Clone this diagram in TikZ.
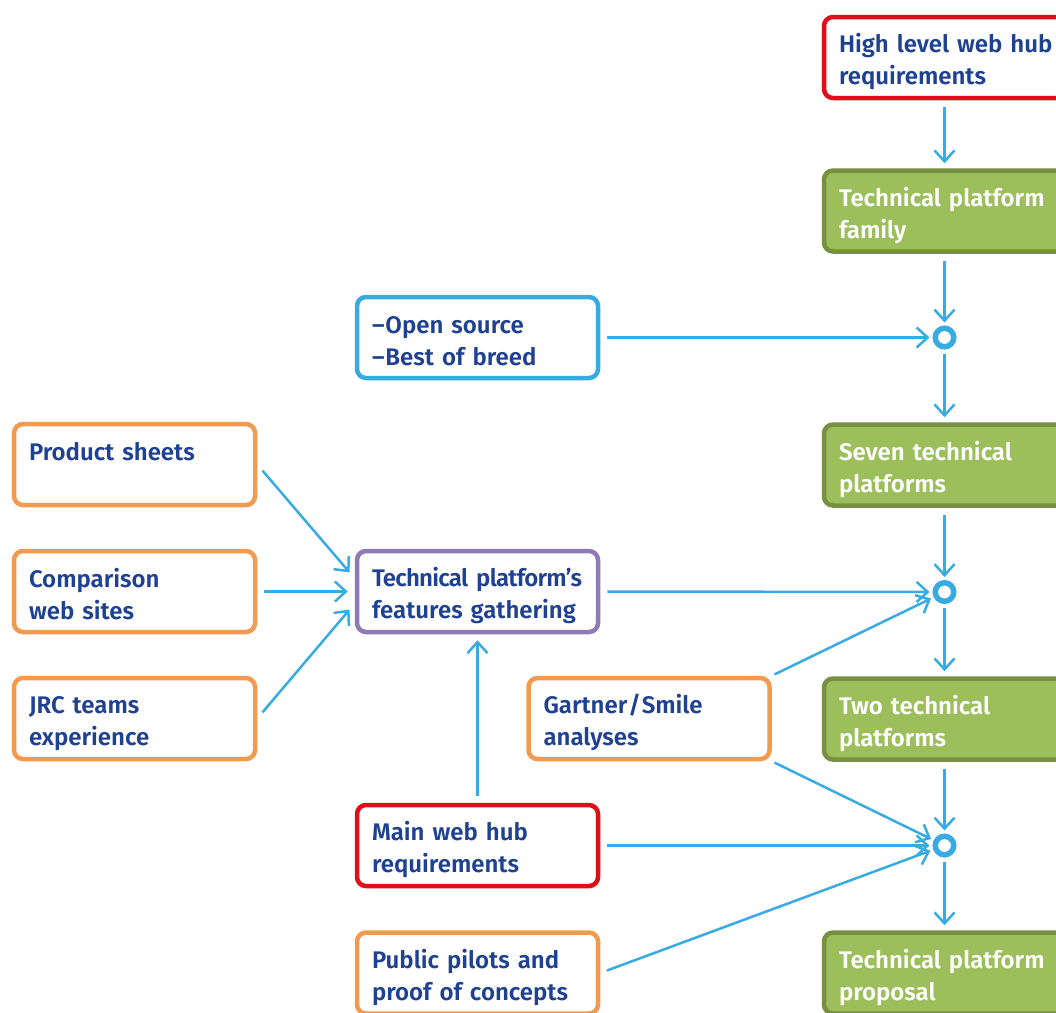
\documentclass[tikz,border=0pt]{standalone}
\usepackage{fontspec}
\setmainfont{Fira Sans}[UprightFont={* SemiBold}]
\usetikzlibrary{arrows.meta,calc}
\definecolor{linkblue}{HTML}{38ABE3}
\definecolor{txtblue}{HTML}{1F4192}
\definecolor{boxred}{HTML}{E10E19}
\definecolor{boxorange}{HTML}{F29A50}
\definecolor{boxpurple}{HTML}{8E7BB6}
\definecolor{greenfill}{HTML}{9CBF5B}
\definecolor{greenline}{HTML}{768F40}
\newcommand\myTop{\rule{0pt}{28pt}}
\newcommand\myBot{\rule[-5pt]{0pt}{5pt}}
\begin{document}
\begin{tikzpicture}[x=1pt,y=-1pt,
  box/.style={rectangle, rounded corners=9pt, line width=4.5pt,
    minimum width=241pt, minimum height=81pt, inner xsep=15pt, inner ysep=0pt,
    text width=211pt, align=left, font=\fontsize{24}{32}\selectfont,
    text=txtblue, fill=white},
  redbox/.style={box, draw=boxred},
  orangebox/.style={box, draw=boxorange},
  bluebox/.style={box, draw=linkblue},
  purplebox/.style={box, draw=boxpurple},
  greenbox/.style={box, draw=greenline, fill=greenfill, text=white},
  joint/.style={circle, draw=linkblue, line width=5.5pt, minimum size=18.5pt, inner sep=0pt, fill=white},
  arr/.style={draw=linkblue, line width=2.5pt, -{Straight Barb[length=11pt,width=20pt]}}
]
\useasboundingbox (0,0) rectangle (1056,1012);
\clip (0,0) rectangle (1056,1012);
\fill[white] (0,0) rectangle (1056,1012);

% right column
\node[redbox]   (hl)    at (944.5,57.5) {\myTop\mbox{High level web hub}\\requirements\myBot};
\node[greenbox] (tpf)   at (944.5,211)  {\myTop\mbox{Technical platform}\\family\myBot};
\node[joint]    (c1)    at (944.5,337.5) {};
\node[greenbox] (seven) at (944.5,465)  {\myTop Seven technical\\platforms\myBot};
\node[joint]    (c2)    at (944.5,592)  {};
\node[greenbox] (two)   at (944.5,719)  {\myTop Two technical\\platforms\myBot};
\node[joint]    (c3)    at (944.5,845.5) {};
\node[greenbox] (prop)  at (944.5,973)  {\myTop\mbox{Technical platform}\\proposal\myBot};

% middle column
\node[bluebox]   (os)   at (477.5,337.5) {\myTop –\kern1pt Open source\\–\kern1pt Best of breed\myBot};
\node[purplebox] (feat) at (477.5,591.5) {\myTop\mbox{\addfontfeature{LetterSpace=-3}Technical platform’s}\\\mbox{features gathering}\myBot};
\node[orangebox] (gart) at (649,718.5)   {\myTop Gartner\kern1pt/\kern1pt Smile\\analyses\myBot};
\node[redbox]    (main) at (477.5,845.5) {\myTop Main web hub\\requirements\myBot};
\node[orangebox] (pub)  at (477.5,973)   {\myTop\mbox{Public pilots and}\\\mbox{proof of concepts}\myBot};

% left column
\node[orangebox] (ps)  at (134.5,464.5) {\myTop Product sheets\\\myBot};
\node[orangebox] (cmp) at (134.5,591.5) {\myTop Comparison\\web sites\myBot};
\node[orangebox] (jrc) at (134.5,718.5) {\myTop JRC teams\\experience\myBot};

% vertical chain
\draw[arr, shorten <=7pt, shorten >=5pt] (hl) -- (tpf);
\draw[arr, shorten <=7pt, shorten >=3pt] (tpf) -- (c1);
\draw[arr, shorten <=4pt, shorten >=5pt] (c1) -- (seven);
\draw[arr, shorten <=7pt, shorten >=3pt] (seven) -- (c2);
\draw[arr, shorten <=4pt, shorten >=5pt] (c2) -- (two);
\draw[arr, shorten <=7pt, shorten >=3pt] (two) -- (c3);
\draw[arr, shorten <=4pt, shorten >=5pt] (c3) -- (prop);

% into joints
\draw[arr, shorten <=7pt, shorten >=3pt] (os.east) -- (c1);
\draw[arr, shorten <=7pt, shorten >=3pt] (feat.east) -- (c2);
\draw[arr, shorten <=3pt, shorten >=3pt] (gart.north east) -- (c2);
\draw[arr, shorten <=3pt, shorten >=3pt] (gart.south east) -- (c3);
\draw[arr, shorten <=7pt, shorten >=3pt] (main.east) -- (c3);
\draw[arr, shorten <=7pt, shorten >=3pt] (pub.east) -- (c3);

% into features gathering
\draw[arr, shorten <=7pt, shorten >=6pt] (main.north) -- (feat.south);
\draw[arr, shorten <=8pt, shorten >=8pt] (ps.east) -- ($(feat.west)+(0,-13)$);
\draw[arr, shorten <=7pt, shorten >=7pt] (cmp.east) -- (feat.west);
\draw[arr, shorten <=8pt, shorten >=8pt] (jrc.east) -- ($(feat.west)+(0,12)$);
\end{tikzpicture}
\end{document}
